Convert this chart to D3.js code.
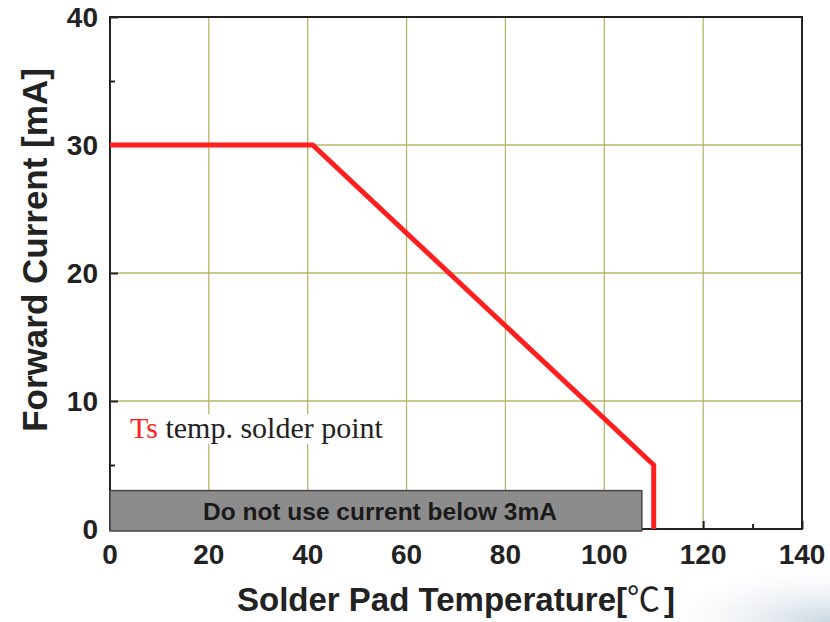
<!DOCTYPE html>
<html>
<head>
<meta charset="utf-8">
<script src="https://cdn.jsdelivr.net/npm/d3@7"></script>
<style>
  body { margin: 0; background: #fff; }
  svg { display: block; }
</style>
</head>
<body>
<div id="chart"></div>
<script>
// derating curve: solder pad temperature [C] -> forward current [mA]
const temps = [0, 41, 110, 110];
const currents = [30, 30, 5, 0];
const xTicks = [0, 20, 40, 60, 80, 100, 120, 140];
const yTicks = [0, 10, 20, 30, 40];
const xMinor = [130];
const yMinor = [5, 35];
const xGrid = [20, 40, 60, 80, 100, 120];
const yGrid = [10, 20, 30];
const noUseBox = [0, 107.6, 3]; // x from, x to, current limit

const width = 830, height = 622;
const margin = {top: 17, right: 28, bottom: 93, left: 110};
const sans = "'Liberation Sans', Arial, sans-serif";

const svg = d3.select("#chart").append("svg")
    .attr("width", width)
    .attr("height", height);

// faint decoration in the bottom right corner
const defs = svg.append("defs");
const grad = defs.append("radialGradient").attr("id", "corner")
    .attr("cx", "100%").attr("cy", "100%").attr("r", "100%");
grad.append("stop").attr("offset", "0%").attr("stop-color", "#c9d6e0");
grad.append("stop").attr("offset", "100%").attr("stop-color", "#ffffff").attr("stop-opacity", 0);
svg.append("rect").attr("x", 640).attr("y", 560).attr("width", 190).attr("height", 62)
    .attr("fill", "url(#corner)");

const x = d3.scaleLinear().domain([0, 140]).range([margin.left, width - margin.right]);
const y = d3.scaleLinear().domain([0, 40]).range([height - margin.bottom, margin.top]);

const g = svg.append("g");

// grid
g.selectAll("line.vg").data(xGrid).join("line")
    .attr("x1", d => x(d)).attr("x2", d => x(d))
    .attr("y1", y(0)).attr("y2", y(40))
    .attr("stroke", "#b8b46a").attr("stroke-width", 1.3);
g.selectAll("line.hg").data(yGrid).join("line")
    .attr("x1", x(0)).attr("x2", x(140))
    .attr("y1", d => y(d)).attr("y2", d => y(d))
    .attr("stroke", "#b8b46a").attr("stroke-width", 1.3);

// annotation text with white backing
const note = g.append("text")
    .attr("x", 130).attr("y", 438)
    .attr("font-family", "'Liberation Serif', 'Times New Roman', serif")
    .attr("font-size", 30);
note.append("tspan").attr("fill", "#ff2020").text("Ts");
note.append("tspan").attr("fill", "#222").text(" temp. solder point");
const bb = note.node().getBBox();
g.insert("rect", "text")
    .attr("x", bb.x - 4).attr("y", bb.y + 3)
    .attr("width", bb.width + 8).attr("height", bb.height - 3)
    .attr("fill", "#fff");

// frame
g.append("rect")
    .attr("x", x(0)).attr("y", y(40))
    .attr("width", x(140) - x(0)).attr("height", y(0) - y(40))
    .attr("fill", "none").attr("stroke", "#222").attr("stroke-width", 2);

// ticks (inside)
g.append("g").attr("transform", `translate(0,${y(0)})`)
    .call(d3.axisBottom(x).tickValues(xTicks).tickSize(-8).tickFormat(""))
    .call(a => a.select(".domain").remove());
g.append("g").attr("transform", `translate(0,${y(0)})`)
    .call(d3.axisBottom(x).tickValues(xMinor).tickSize(-5).tickFormat(""))
    .call(a => a.select(".domain").remove());
g.append("g").attr("transform", `translate(${x(0)},0)`)
    .call(d3.axisLeft(y).tickValues(yTicks).tickSize(-8).tickFormat(""))
    .call(a => a.select(".domain").remove());
g.append("g").attr("transform", `translate(${x(0)},0)`)
    .call(d3.axisLeft(y).tickValues(yMinor).tickSize(-5).tickFormat(""))
    .call(a => a.select(".domain").remove());
g.selectAll(".tick line").attr("stroke", "#222").attr("stroke-width", 2);

// tick labels
g.append("g").selectAll("text").data(xTicks).join("text")
    .attr("x", d => x(d)).attr("y", y(0) + 35)
    .attr("text-anchor", "middle")
    .attr("font-family", sans)
    .attr("font-weight", "bold").attr("font-size", 28).attr("fill", "#222")
    .text(d => d);
g.append("g").selectAll("text").data(yTicks).join("text")
    .attr("x", 98).attr("y", d => y(d) + 10)
    .attr("text-anchor", "end")
    .attr("font-family", sans)
    .attr("font-weight", "bold").attr("font-size", 28).attr("fill", "#222")
    .text(d => d);

// grey "do not use" box
g.append("rect")
    .attr("x", x(noUseBox[0])).attr("y", y(noUseBox[2]))
    .attr("width", x(noUseBox[1]) - x(noUseBox[0]))
    .attr("height", y(0) - y(noUseBox[2]) + 2)
    .attr("fill", "#8c8c8c").attr("stroke", "#444").attr("stroke-width", 1.5);
g.append("text")
    .attr("x", (x(noUseBox[0]) + x(noUseBox[1])) / 2 + 4).attr("y", 520)
    .attr("text-anchor", "middle")
    .attr("font-family", sans)
    .attr("font-weight", "bold").attr("font-size", 24.5).attr("fill", "#1a1a1a")
    .text("Do not use current below 3mA");

// derating curve
const line = d3.line().x(d => x(d[0])).y(d => y(d[1]));
g.append("path")
    .datum(d3.zip(temps, currents))
    .attr("d", line)
    .attr("fill", "none").attr("stroke", "#ff1f1f")
    .attr("stroke-width", 5).attr("stroke-linejoin", "miter");

// axis titles
const xt = svg.append("text")
    .attr("x", 456).attr("y", 611)
    .attr("text-anchor", "middle")
    .attr("font-family", sans)
    .attr("font-weight", "bold").attr("font-size", 33).attr("fill", "#222");
xt.append("tspan").text("Solder Pad Temperature[");
xt.append("tspan").attr("font-family", "'Noto Sans CJK SC', sans-serif")
    .attr("font-weight", "normal").attr("font-size", 33).text("℃");
xt.append("tspan").attr("dx", 4).text("]");
svg.append("text")
    .attr("transform", "translate(47,250) rotate(-90)")
    .attr("text-anchor", "middle")
    .attr("font-family", sans)
    .attr("font-weight", "bold").attr("font-size", 35).attr("fill", "#222")
    .text("Forward Current [mA]");
</script>
</body>
</html>
